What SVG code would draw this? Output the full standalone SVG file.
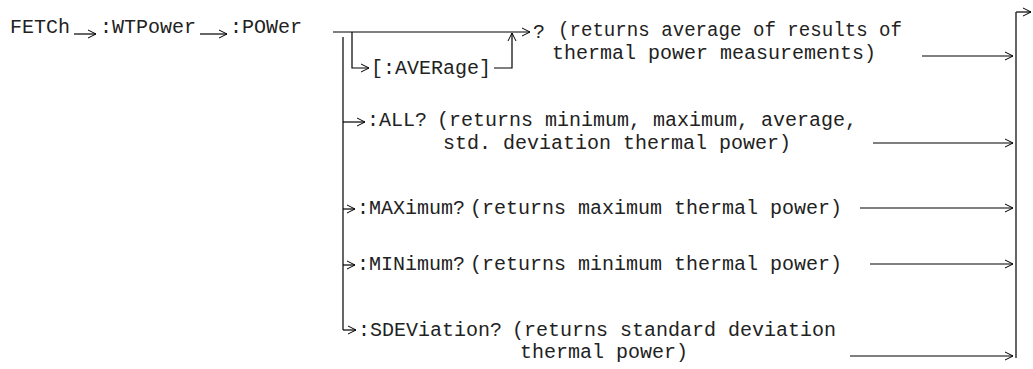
<svg xmlns="http://www.w3.org/2000/svg" width="1033" height="369" viewBox="0 0 1033 369">
<defs>
<marker id="ah" markerUnits="userSpaceOnUse" markerWidth="10" markerHeight="10" viewBox="0 0 10 10" refX="9.5" refY="5" orient="auto">
<path d="M1.5,1 L9.5,5 L1.5,9" fill="none" stroke="#000" stroke-width="1"/>
</marker>
<style>
text{font-family:"Courier New","Liberation Mono",monospace;font-size:20px;fill:#222}
.c{fill:none;stroke:#000;stroke-width:1.2}
.a{marker-end:url(#ah)}
</style>
</defs>
<rect width="1033" height="369" fill="#fff"/>
<g id="fetch"><text x="10" y="33">FETCh</text></g>
<g id="wtpower"><text x="100" y="33">:WTPower</text></g>
<g id="power"><text x="230" y="33">:POWer</text></g>
<g id="query"><text x="533" y="38">?</text>
<text x="558" y="36" textLength="344" lengthAdjust="spacingAndGlyphs">(returns average of results of</text>
<text x="552" y="59">thermal power measurements)</text></g>
<g id="average"><text x="371" y="74">[:AVERage]</text></g>
<g id="all"><text x="367" y="126">:ALL?</text>
<text x="437" y="126">(returns minimum, maximum, average,</text>
<text x="443" y="149">std. deviation thermal power)</text></g>
<g id="maximum"><text x="357" y="214">:MAXimum?</text>
<text x="470" y="214">(returns maximum thermal power)</text></g>
<g id="minimum"><text x="357" y="270">:MINimum?</text>
<text x="470" y="270">(returns minimum thermal power)</text></g>
<g id="sdeviation"><text x="358" y="336">:SDEViation?</text>
<text x="512" y="336">(returns standard deviation</text>
<text x="520" y="358">thermal power)</text></g>
<g id="connectors">
<path class="c a" d="M74,34 H96"/>
<path class="c a" d="M200,34 H227"/>
<path class="c a" d="M333,32 H530"/>
<path class="c" d="M343,37 V330"/>
<path class="c a" d="M352,32 V68 H369"/>
<path class="c a" d="M494,68 H512 V33"/>
<path class="c a" d="M343,122 H365"/>
<path class="c a" d="M343,209 H355"/>
<path class="c a" d="M343,265 H355"/>
<path class="c a" d="M343,330 H356"/>
<path class="c a" d="M922,56 H1013"/>
<path class="c a" d="M873,143 H1013"/>
<path class="c a" d="M860,208 H1013"/>
<path class="c a" d="M870,264 H1013"/>
<path class="c a" d="M850,356 H1013"/>
<path class="c" d="M1016,358 V12"/>
<path class="c a" d="M1016,12 H1031"/>
</g>
</svg>
